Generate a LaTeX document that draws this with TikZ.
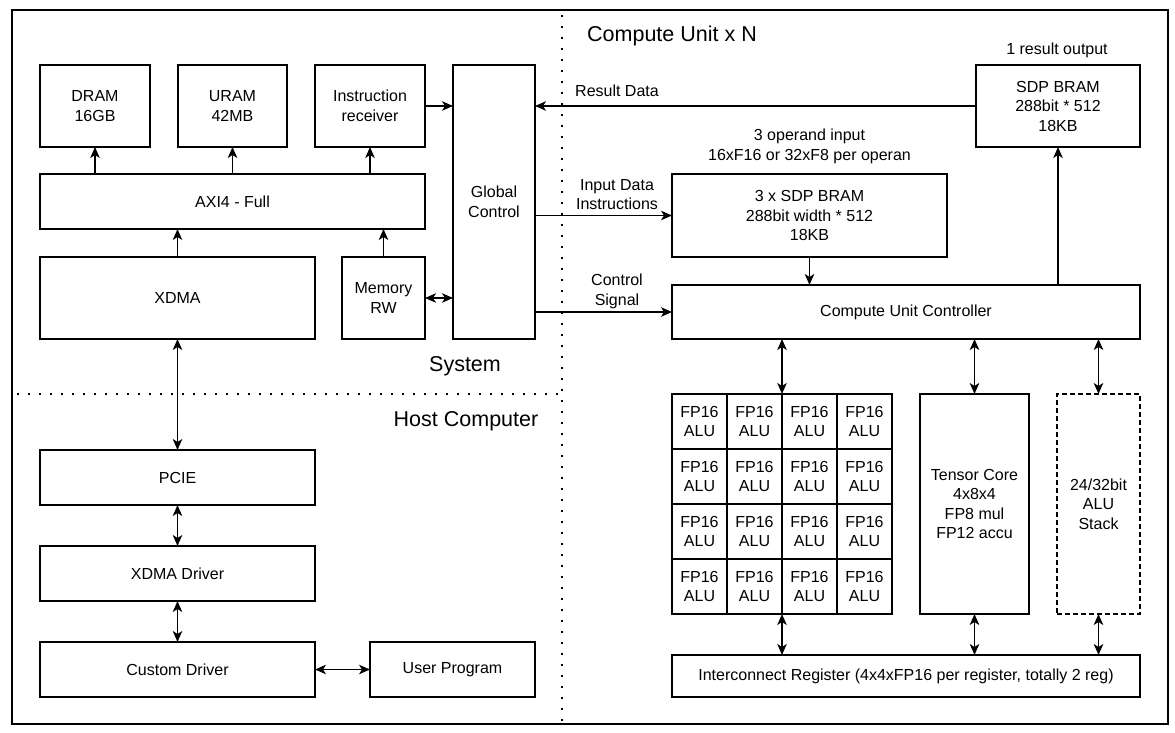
\documentclass[tikz,border=0pt]{standalone}
\usepackage{fontspec}
\setmainfont{Liberation Sans}
\usetikzlibrary{arrows.meta}
\tikzset{
  box/.style={draw=black, line width=1.3pt, fill=white, inner sep=0pt, outer sep=0pt, align=center, font=\fontsize{16}{19.5}\selectfont},
  lbl/.style={inner sep=0pt, align=center, font=\fontsize{16}{19.5}\selectfont},
  title/.style={inner sep=0pt, font=\fontsize{21.5}{24}\selectfont},
  conn/.style={line width=1.3pt, -{Stealth[length=11pt,width=9.5pt,inset=3pt]}},
  bconn/.style={line width=1.3pt, {Stealth[length=11pt,width=9.5pt,inset=3pt]}-{Stealth[length=11pt,width=9.5pt,inset=3pt]}},
  sep/.style={line width=2.2pt, dash pattern=on 2.2pt off 8.8pt},
}
\begin{document}
\begin{tikzpicture}[x=1pt,y=-1pt]
\useasboundingbox (0,0) rectangle (1175,733);
% outer border and separators
\draw[line width=1.3pt] (12,10) rectangle (1168,724);
\coordinate (vt) at (562,15);
\coordinate (vb) at (562,724);
\coordinate (hl) at (17,394);
\coordinate (hr) at (562,394);
\draw[sep] (vt) -- (vb);
\draw[sep] (hl) -- (hr);
% titles
\node[title] (tcu) at (672,36) {Compute Unit x N};
\node[title] (tsys) at (465,366) {System};
\node[title] (thost) at (466,421) {Host Computer};
% System
\node[box, minimum width=110pt, minimum height=82pt] (dram) at (95,106) {DRAM\\16GB};
\node[box, minimum width=109pt, minimum height=82pt] (uram) at (232.5,106) {URAM\\42MB};
\node[box, minimum width=110pt, minimum height=82pt] (instr) at (370,106) {Instruction\\receiver};
\node[box, minimum width=385pt, minimum height=55pt] (axi) at (232.5,201.5) {AXI4 - Full};
\node[box, minimum width=275pt, minimum height=82pt] (xdma) at (177.5,298) {XDMA};
\node[box, minimum width=83pt, minimum height=82pt] (memrw) at (383.5,298) {Memory\\RW};
\node[box, minimum width=82pt, minimum height=274pt] (glob) at (494,202) {Global\\Control};
% Host
\node[box, minimum width=275pt, minimum height=55pt] (pcie) at (177.5,477.5) {PCIE};
\node[box, minimum width=275pt, minimum height=55pt] (xdrv) at (177.5,573.5) {XDMA Driver};
\node[box, minimum width=275pt, minimum height=55pt] (cdrv) at (177.5,669.5) {Custom Driver};
\node[box, minimum width=165pt, minimum height=55pt] (user) at (452.5,669.5) {User Program};
% Compute unit
\node[box, minimum width=164pt, minimum height=82pt] (sdp) at (1058,106) {SDP BRAM\\288bit * 512\\18KB};
\node[lbl] (lres) at (1057,50) {1 result output};
\node[box, minimum width=275pt, minimum height=83pt] (sdp3) at (809.5,215.5) {3 x SDP BRAM\\288bit width * 512\\18KB};
\node[lbl] (lop) at (809.5,146.5) {3 operand input\\16xF16 or 32xF8 per operan};
\node[box, minimum width=468pt, minimum height=54pt] (cuc) at (906,312) {Compute Unit Controller};
\foreach \i in {0,1,2,3} {
  \foreach \j in {0,1,2,3} {
    \node[box, minimum width=55pt, minimum height=55pt] (a-\i-\j) at ({672+27.5+55*\i},{394+27.5+55*\j}) {FP16\\ALU};
  }
}
\node[box, minimum width=109pt, minimum height=220pt] (tensor) at (974.5,504) {Tensor Core\\4x8x4\\FP8 mul\\FP12 accu};
\node[box, dashed, dash pattern=on 5pt off 3pt, minimum width=83pt, minimum height=220pt] (stack) at (1098.5,504) {24/32bit\\ALU\\Stack};
\node[box, minimum width=468pt, minimum height=42pt] (ireg) at (906,676) {Interconnect Register (4x4xFP16 per register, totally 2 reg)};
% labels on links
\node[lbl] (lrd) at (617,91) {Result Data};
\node[lbl] (lin) at (617,194.5) {Input Data\\Instructions};
\node[lbl] (lcs) at (617,291.5) {Control\\Signal};
% connectors - system
\draw[conn] (dram.south |- axi.north) -- (dram.south);
\draw[conn] (uram.south |- axi.north) -- (uram.south);
\draw[conn] (instr.south |- axi.north) -- (instr.south);
\draw[conn] (xdma.north) -- (xdma.north |- axi.south);
\draw[conn] (memrw.north) -- (memrw.north |- axi.south);
\draw[conn] (instr.east) -- (instr.east -| glob.west);
\draw[bconn] (memrw.east) -- (memrw.east -| glob.west);
% system - host
\draw[bconn] (xdma.south) -- (pcie.north);
\draw[bconn] (pcie.south) -- (xdrv.north);
\draw[bconn] (xdrv.south) -- (cdrv.north);
\draw[bconn] (cdrv.east) -- (user.west);
% compute unit
\draw[conn] (sdp.west) -- (sdp.west -| glob.east);
\draw[conn] (sdp3.west -| glob.east) -- (sdp3.west);
\draw[conn] (cuc.west -| glob.east) -- (cuc.west);
\draw[conn] (sdp3.south) -- (sdp3.south |- cuc.north);
\draw[conn] (sdp.south |- cuc.north) -- (sdp.south);
\draw[bconn] (cuc.south -| a-1-0.north east) -- (a-1-0.north east);
\draw[bconn] (a-1-3.south east) -- (a-1-3.south east |- ireg.north);
\draw[bconn] (cuc.south -| tensor.north) -- (tensor.north);
\draw[bconn] (tensor.south) -- (tensor.south |- ireg.north);
\draw[bconn] (cuc.south -| stack.north) -- (stack.north);
\draw[bconn] (stack.south) -- (stack.south |- ireg.north);
\end{tikzpicture}
\end{document}
